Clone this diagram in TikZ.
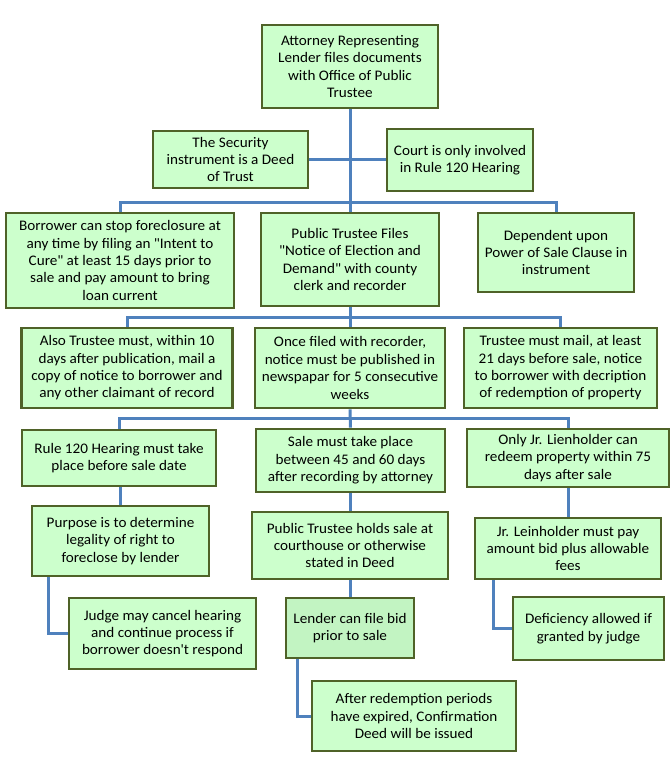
\documentclass[tikz,border=0pt]{standalone}
\usepackage{fontspec}
\setmainfont{Carlito}[FakeStretch=1.04]
\usepackage{xcolor}
\definecolor{boxFill}{HTML}{CCFFCC}
\definecolor{boxFillDark}{HTML}{C2F4C2}
\definecolor{boxEdge}{HTML}{4F6228}
\definecolor{linkBlue}{HTML}{4F81BD}
\usetikzlibrary{shadows}
\tikzset{
  flowbox/.style={draw=boxEdge, fill=boxFill, line width=2.6pt, align=center, inner sep=2pt,
    font=\fontsize{14.6}{17.4}\selectfont,
    drop shadow={shadow xshift=1.2pt, shadow yshift=1.2pt, opacity=0.25}},
  link/.style={draw=linkBlue, line width=3pt}
}

\begin{document}
\begin{tikzpicture}[x=1pt, y=-1pt]
  \useasboundingbox[fill=white] (0,0) rectangle (671,776);
  \coordinate (bus0) at (350,202);
  \coordinate (bus1) at (350,317);
  \coordinate (bus2) at (350,418);
  \node[flowbox, minimum width=176pt, minimum height=83pt] (top) at (350,66.5) {Attorney Representing\\Lender files documents\\with Office of Public\\Trustee};
  \node[flowbox, minimum width=155pt, minimum height=57pt] (sec) at (230.5,159.5) {The Security\\instrument is a Deed\\of Trust};
  \node[flowbox, minimum width=146pt, minimum height=62pt] (court) at (460,160) {Court is only involved\\in Rule 120 Hearing};
  \node[flowbox, minimum width=228pt, minimum height=95pt] (borrow) at (120,260.5) {Borrower can stop foreclosure at\\any time by filing an \textquotedbl Intent to\\Cure\textquotedbl{} at least 15 days prior to\\sale and pay amount to bring\\loan current};
  \node[flowbox, minimum width=178pt, minimum height=93pt] (ptfiles) at (350,259.5) {Public Trustee Files\\\textquotedbl Notice of Election and\\Demand\textquotedbl{} with county\\clerk and recorder};
  \node[flowbox, minimum width=156pt, minimum height=79pt] (depend) at (556,252.5) {Dependent upon\\Power of Sale Clause in\\instrument};
  \node[flowbox, minimum width=211pt, minimum height=80pt] (also) at (127,368) {Also Trustee must, within 10\\days after publication, mail a\\copy of notice to borrower and\\any other claimant of record};
  \node[flowbox, minimum width=190pt, minimum height=80pt] (once) at (350,368) {Once filed with recorder,\\notice must be published in\\newspapar for 5 consecutive\\weeks};
  \node[flowbox, minimum width=193pt, minimum height=80pt] (mail) at (560.5,368) {Trustee must mail, at least\\21 days before sale, notice\\to borrower with decription\\of redemption of property};
  \node[flowbox, minimum width=194pt, minimum height=56pt] (rule) at (119,458) {Rule 120 Hearing must take\\place before sale date};
  \node[flowbox, minimum width=189pt, minimum height=63pt] (salemust) at (350.5,460.5) {Sale must take place\\between 45 and 60 days\\after recording by attorney};
  \node[flowbox, minimum width=202pt, minimum height=58pt] (onlyjr) at (568,458) {Only Jr. Lienholder can\\redeem property within 75\\days after sale};
  \node[flowbox, minimum width=177pt, minimum height=70pt] (purpose) at (120.5,541) {Purpose is to determine\\legality of right to\\foreclose by lender};
  \node[flowbox, minimum width=196pt, minimum height=67pt] (ptholds) at (350,545.5) {Public Trustee holds sale at\\courthouse or otherwise\\stated in Deed};
  \node[flowbox, minimum width=186pt, minimum height=61pt] (jrpay) at (568,548.5) {Jr. Leinholder must pay\\amount bid plus allowable\\fees};
  \node[flowbox, minimum width=187pt, minimum height=71pt] (judge) at (162.5,633.5) {Judge may cancel hearing\\and continue process if\\borrower doesn\textquotesingle t respond};
  \node[flowbox, fill=boxFillDark, minimum width=128pt, minimum height=60pt] (lender) at (350,628) {Lender can file bid\\prior to sale};
  \node[flowbox, minimum width=151pt, minimum height=63pt] (deficiency) at (588.5,628.5) {Deficiency allowed if\\granted by judge};
  \node[flowbox, minimum width=204pt, minimum height=70pt] (after) at (414,716) {After redemption periods\\have expired, Confirmation\\Deed will be issued};
  \draw[link] (top.south) -- (ptfiles.north);
  \draw[link] (sec.east) -- (sec.east -| court.west);
  \draw[link] (borrow.north) |- (bus0) -| (depend.north);
  \draw[link] (ptfiles.south) -- (once.north);
  \draw[link] (also.north) |- (bus1) -| (mail.north);
  \draw[link] (once.south) -- (salemust.north);
  \draw[link] (rule.north) |- (bus2) -| (onlyjr.north);
  \draw[link] ([xshift=1pt]rule.south) -- ([xshift=1pt]rule.south |- purpose.north);
  \draw[link] ([xshift=17.5pt]purpose.south west) |- (judge.west);
  \draw[link] (salemust.south -| ptholds.north) -- (ptholds.north);
  \draw[link] (ptholds.south) -- (lender.north);
  \draw[link] ([xshift=13pt]lender.south west) |- (after.west);
  \draw[link] (onlyjr.south) -- (jrpay.north);
  \draw[link] ([xshift=20pt]jrpay.south west) |- (deficiency.west);
\end{tikzpicture}
\end{document}
